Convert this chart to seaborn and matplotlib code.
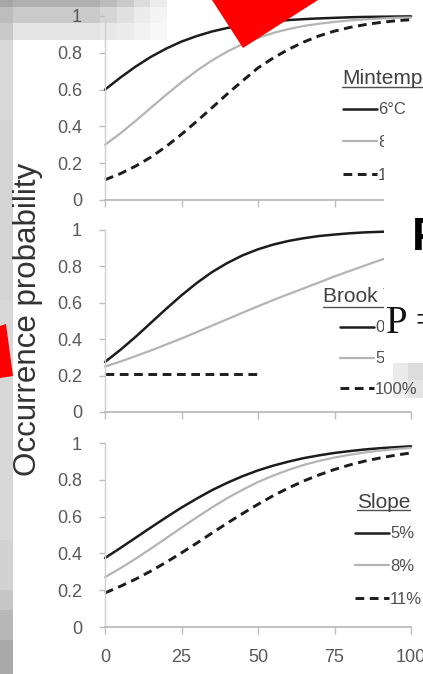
import numpy as np
import pandas as pd
import seaborn as sns
import matplotlib.pyplot as plt
from matplotlib.patches import Polygon, Rectangle
from matplotlib.lines import Line2D

# ---- data -----------------------------------------------------------------
x_pct = [0, 5, 10, 15, 20, 25, 30, 35, 40, 45, 50,
         55, 60, 65, 70, 75, 80, 85, 90, 95, 100]

mintemp_6 = [0.600, 0.665, 0.725, 0.778, 0.823, 0.861, 0.891, 0.916, 0.935, 0.950, 0.962,
             0.971, 0.978, 0.983, 0.987, 0.990, 0.993, 0.995, 0.996, 0.997, 0.998]
mintemp_8 = [0.300, 0.362, 0.430, 0.501, 0.572, 0.640, 0.703, 0.759, 0.807, 0.848, 0.881,
             0.908, 0.929, 0.946, 0.958, 0.968, 0.976, 0.982, 0.986, 0.990, 0.992]
mintemp_10 = [0.110, 0.143, 0.184, 0.233, 0.291, 0.357, 0.428, 0.502, 0.577, 0.648, 0.718,
              0.772, 0.819, 0.859, 0.892, 0.918, 0.938, 0.953, 0.965, 0.974, 0.980]

brook_0 = [0.275, 0.341, 0.413, 0.490, 0.567, 0.641, 0.709, 0.769, 0.819, 0.861, 0.894,
           0.920, 0.940, 0.955, 0.967, 0.975, 0.982, 0.987, 0.990, 0.993, 0.995]
brook_50 = [0.250, 0.277, 0.307, 0.338, 0.371, 0.404, 0.439, 0.475, 0.510, 0.546, 0.581,
            0.615, 0.648, 0.680, 0.712, 0.745, 0.775, 0.805, 0.835, 0.860, 0.880]
brook_100_x = [0, 50]
brook_100 = [0.21, 0.21]

slope_5 = [0.375, 0.429, 0.485, 0.541, 0.596, 0.649, 0.698, 0.744, 0.784, 0.820, 0.851,
           0.877, 0.899, 0.918, 0.933, 0.946, 0.956, 0.965, 0.972, 0.977, 0.982]
slope_8 = [0.271, 0.319, 0.371, 0.426, 0.483, 0.540, 0.596, 0.650, 0.701, 0.746, 0.788,
           0.823, 0.854, 0.881, 0.903, 0.921, 0.936, 0.949, 0.959, 0.967, 0.974]
slope_11 = [0.185, 0.221, 0.260, 0.304, 0.352, 0.403, 0.456, 0.511, 0.565, 0.617, 0.667,
            0.714, 0.756, 0.794, 0.827, 0.856, 0.881, 0.902, 0.919, 0.934, 0.946]

mintemp_labels = ["6°C", "8°C", "10°C"]
brook_labels = ["0%", "50%", "100%"]
slope_labels = ["5%", "8%", "11%"]
panel_titles = ["Mintemp", "Brook Trout", "Slope"]

x_ticks = [0, 25, 50, 75, 100]
y_ticks = [0, 0.2, 0.4, 0.6, 0.8, 1]
y_ticklabels = ["0", "0.2", "0.4", "0.6", "0.8", "1"]
y_label = "Occurrence probability"

# ---- style ----------------------------------------------------------------
sns.set_style("white")
plt.rcParams["font.family"] = ["Liberation Sans", "DejaVu Sans"]

W, H = 423, 674
fig = plt.figure(figsize=(W / 100, H / 100), dpi=100, facecolor="white")


def fx(px):
    return px / W


def fy(py):
    return 1 - py / H


BLACK = "#1c1c1c"
GREY = "#b4b4b4"
TICK_C = "#595959"
series_styles = [
    dict(color=BLACK, lw=1.8, ls="-"),
    dict(color=GREY, lw=1.6, ls="-"),
    dict(color=BLACK, lw=2.1, ls=(0, (3.0, 1.9))),
]

# ---- backdrop tiles around the plot -----------------------------------------
def tile(x0, y0, x1, y1, color, z=-5):
    fig.add_artist(Rectangle((fx(x0), fy(y1)), fx(x1) - fx(x0), (y1 - y0) / H,
                             transform=fig.transFigure, facecolor=color,
                             edgecolor="none", zorder=z))

# left strip
strip = [(0, 7, "#a6a6a6"), (7, 23, "#bdbdbd"), (23, 40, "#c9c9c9"), (40, 120, "#d9d9d9"),
         (120, 300, "#d4d4d4"), (300, 540, "#d8d8d8"), (540, 590, "#d2d2d2"),
         (590, 610, "#c6c6c6"), (610, 640, "#b8b8b8"), (640, 674, "#a8a8a8")]
for y0, y1, c in strip:
    tile(0, y0, 13, y1, c)
# top-left mosaic
mosaic_cols = [13, 100, 117, 134, 150, 167]
mosaic_rows = [(0, 7, ["#b0b0b0", "#bcbcbc", "#c9c9c9", "#dcdcdc", "#ececec"]),
               (7, 23, ["#cacaca", "#d5d5d5", "#e0e0e0", "#ececec", "#f4f4f4"]),
               (23, 40, ["#e4e4e4", "#e8e8e8", "#ececec", "#f2f2f2", "#f8f8f8"])]
for y0, y1, cols in mosaic_rows:
    for i, c in enumerate(cols):
        tile(mosaic_cols[i], y0, mosaic_cols[i + 1], y1, c)
# light tiles behind the middle legend
tile(393, 363, 408, 380, "#eaeaea")
tile(408, 363, 423, 380, "#dcdcdc")
tile(393, 380, 408, 398, "#f0f0f0")
tile(408, 380, 423, 398, "#e4e4e4")

# ---- panels -----------------------------------------------------------------
panel_px = [(16, 200), (230, 412), (443, 627)]
panel_series = [
    [(x_pct, mintemp_6), (x_pct, mintemp_8), (x_pct, mintemp_10)],
    [(x_pct, brook_0), (x_pct, brook_50), (brook_100_x, brook_100)],
    [(x_pct, slope_5), (x_pct, slope_8), (x_pct, slope_11)],
]
panel_labels = [mintemp_labels, brook_labels, slope_labels]
legend_pos = [(343, 108, 1.05), (340, 326, 0.95), (355, 532, 1.05)]
title_pos = [(342, 78, 87), (323, 297, 307), (357, 502, 510)]

axes = []
titles = []
for k, (top, bot) in enumerate(panel_px):
    ax = fig.add_axes([fx(105), fy(bot), fx(411) - fx(105), (bot - top) / H])
    ax.set_facecolor("none")
    for (xs, ys), st in zip(panel_series[k], series_styles):
        df = pd.DataFrame({"x": xs, "p": ys})
        sns.lineplot(data=df, x="x", y="p", ax=ax, estimator=None, color=st["color"],
                     linewidth=st["lw"], clip_on=False)
        ax.lines[-1].set_linestyle(st["ls"])
    ax.set_xlim(0, 100)
    ax.set_ylim(0, 1)
    ax.set_xlabel("")
    ax.set_ylabel("")
    ax.set_xticks(x_ticks)
    ax.set_yticks(y_ticks)
    ax.set_yticklabels(y_ticklabels)
    if k < 2:
        ax.set_xticklabels([])
    for s in ("top", "right"):
        ax.spines[s].set_visible(False)
    ax.spines["left"].set_color("#cfcfcf")
    ax.spines["left"].set_linewidth(1.0)
    ax.spines["bottom"].set_color("#b5b5b5")
    ax.spines["bottom"].set_linewidth(1.2)
    ax.tick_params(axis="y", direction="out", length=4, width=1, color="#bdbdbd",
                   pad=12.5, labelsize=13, labelcolor=TICK_C, left=True)
    ax.tick_params(axis="x", direction="out", length=5, width=1, color="#bdbdbd",
                   pad=11, labelsize=13, labelcolor=TICK_C, bottom=True)

    lx, ly, lsp = legend_pos[k]
    ax.legend(handles=ax.lines[:3], labels=panel_labels[k], loc="upper left",
              bbox_to_anchor=(fx(lx), fy(ly - 5.5)), bbox_transform=fig.transFigure,
              frameon=False, borderpad=0, borderaxespad=0, fontsize=12,
              handlelength=2.05, handletextpad=0.05, labelspacing=lsp,
              labelcolor="#505050")
    tx, tyc, uy = title_pos[k]
    t = fig.text(fx(tx), fy(tyc), panel_titles[k], ha="left", va="center",
                 fontsize=15, color="#404040")
    titles.append((t, uy))
    axes.append(ax)

# underline the legend titles
fig.canvas.draw()
renderer = fig.canvas.get_renderer()
for t, uy in titles:
    bb = t.get_window_extent(renderer)
    fig.add_artist(Line2D([bb.x0 / W, bb.x1 / W], [fy(uy), fy(uy)],
                          transform=fig.transFigure, color="#505050", lw=1.0))

fig.text(fx(28), fy(319), y_label, rotation=90, ha="center", va="center",
         fontsize=22.5, color="#333333")

# ---- overlays ---------------------------------------------------------------
tile(384, 127, 423, 363, "white", z=10)

red_top = [(212, 0), (318, 0), (243, 48)]
red_left = [(0, 326), (6, 324), (13, 376), (0, 378)]
for poly in (red_top, red_left):
    fig.add_artist(Polygon([(fx(a), fy(b)) for a, b in poly], closed=True,
                           transform=fig.transFigure, facecolor="#ff0000",
                           edgecolor="none", zorder=12))

fig.text(fx(412), fy(250), "P", ha="left", va="baseline", fontsize=33,
         fontweight="bold", color="black", zorder=13)
fig.text(fx(386), fy(333), "P =", ha="left", va="baseline", fontsize=28,
         family=["Liberation Serif", "DejaVu Serif"], color="#111111", zorder=13)

fig.savefig("out.png", dpi=100, facecolor="white")
